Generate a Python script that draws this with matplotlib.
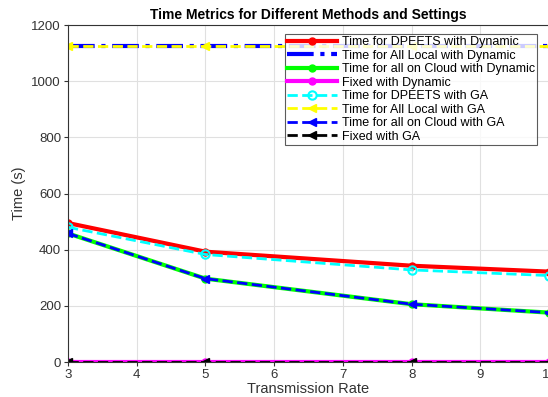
import matplotlib.pyplot as plt

rate = [3, 5, 8, 10]

dpeets_dyn = [495, 393, 343, 322]
local_dyn = [1125, 1125, 1125, 1125]
cloud_dyn = [458, 297, 206, 176]
fixed_dyn = [0, 0, 0, 0]

dpeets_ga = [480, 383, 328, 308]
local_ga = [1125, 1125, 1125, 1125]
cloud_ga = [458, 297, 206, 176]
fixed_ga = [0, 0, 0, 0]

plt.rcParams['font.family'] = ['Liberation Sans', 'DejaVu Sans']

fig = plt.figure(figsize=(5.48, 3.97), dpi=100)
ax = fig.add_axes([0.124, 0.088, 0.878, 0.849])

ax.plot(rate, dpeets_dyn, '-o', color='red', lw=3, ms=5, label='Time for DPEETS with Dynamic')
ax.plot(rate, local_dyn, '-.', color='blue', lw=3, label='Time for All Local with Dynamic')
ax.plot(rate, cloud_dyn, '-o', color='#00ff00', lw=3, ms=5, label='Time for all on Cloud with Dynamic')
ax.plot(rate, fixed_dyn, '-o', color='magenta', lw=3, ms=5, label='Fixed with Dynamic')
ax.plot(rate, dpeets_ga, '--o', color='cyan', lw=2, ms=6, mfc='none', mew=1.5, label='Time for DPEETS with GA')
ax.plot(rate, local_ga, '--<', color='yellow', lw=2, ms=6, label='Time for All Local with GA')
ax.plot(rate, cloud_ga, '--<', color='blue', lw=2, ms=6, label='Time for all on Cloud with GA')
ax.plot(rate, fixed_ga, '--<', color='black', lw=2, ms=6, label='Fixed with GA')

ax.set_xlim(3, 10)
ax.set_ylim(0, 1200)
ax.set_yticks(range(0, 1201, 200))
ax.grid(True, color='#e0e0e0', lw=0.8)
ax.tick_params(labelsize=9.5, colors='#333333', length=3, pad=2)
for s in ax.spines.values():
    s.set_color('#333333')
ax.set_xlabel('Transmission Rate', fontsize=10.5, color='#333333', labelpad=1)
ax.set_ylabel('Time (s)', fontsize=10.5, color='#333333', labelpad=4)
ax.set_title('Time Metrics for Different Methods and Settings', fontsize=10, fontweight='bold', pad=4)

leg = ax.legend(loc='upper right', bbox_to_anchor=(0.975, 0.972), fontsize=9, frameon=True,
                fancybox=False, edgecolor='#333333', handlelength=4, labelspacing=0.12,
                borderpad=0.15, handletextpad=0.4, borderaxespad=0)
leg.get_frame().set_linewidth(0.8)

fig.savefig('out.png', dpi=100)
